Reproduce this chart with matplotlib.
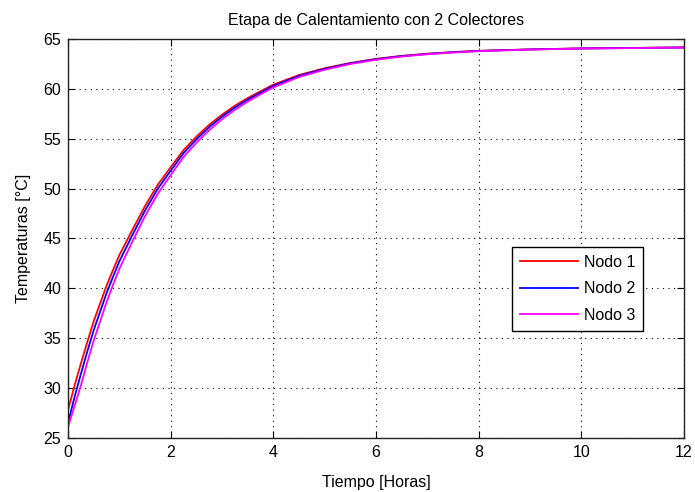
import matplotlib
matplotlib.use("Agg")
import matplotlib.pyplot as plt

plt.rcParams['font.family'] = ['Liberation Sans', 'DejaVu Sans']

# values (hours, deg C)
tiempo = [0, 0.125, 0.25, 0.375, 0.5, 0.625, 0.75, 0.875, 1.0, 1.25, 1.5, 1.75,
          2.0, 2.25, 2.5, 2.75, 3.0, 3.25, 3.5, 3.75, 4.0, 4.5, 5.0, 5.5,
          6.0, 6.5, 7.0, 7.5, 8.0, 9.0, 10.0, 11.0, 12.0]
nodo1 = [27.8, 30.21, 32.45, 34.61, 36.7, 38.48, 40.25, 41.82, 43.33, 45.82, 48.25, 50.4,
         52.15, 53.85, 55.21, 56.4, 57.41, 58.31, 59.08, 59.76, 60.42, 61.39, 62.07, 62.6,
         63.01, 63.31, 63.53, 63.69, 63.82, 63.96, 64.06, 64.11, 64.16]
nodo2 = [26.5, 29.06, 31.4, 33.66, 35.8, 37.66, 39.5, 41.14, 42.71, 45.3, 47.8, 50.0,
         51.8, 53.55, 54.94, 56.16, 57.21, 58.13, 58.92, 59.62, 60.3, 61.3, 62.0, 62.55,
         62.97, 63.28, 63.5, 63.67, 63.8, 63.95, 64.05, 64.1, 64.15]
nodo3 = [26.1, 28.16, 30.25, 32.56, 34.75, 36.68, 38.6, 40.32, 41.96, 44.65, 47.24, 49.5,
         51.35, 53.17, 54.6, 55.86, 56.95, 57.9, 58.72, 59.45, 60.15, 61.19, 61.92, 62.49,
         62.92, 63.24, 63.47, 63.64, 63.78, 63.94, 64.04, 64.09, 64.14]

xticks = [0, 2, 4, 6, 8, 10, 12]
yticks = [25, 30, 35, 40, 45, 50, 55, 60, 65]

fig = plt.figure(figsize=(6.95, 4.92), dpi=100)
ax = fig.add_axes([68/695, 1-438/492, (684-68)/695, (438-39)/492])

ax.plot(tiempo, nodo1, color='red', lw=1.3, label='Nodo 1')
ax.plot(tiempo, nodo2, color='blue', lw=1.3, label='Nodo 2')
ax.plot(tiempo, nodo3, color='magenta', lw=1.3, label='Nodo 3')

ax.set_xlim(0, 12)
ax.set_ylim(25, 65)
ax.set_xticks(xticks)
ax.set_yticks(yticks)
ax.tick_params(direction='in', top=True, right=True, length=5, labelsize=11.5, pad=5)
ax.grid(True, linestyle=(0, (1, 4)), color='black', lw=0.8)
for s in ax.spines.values():
    s.set_color('#222222')
    s.set_linewidth(1.0)

ax.set_title("Etapa de Calentamiento con 2 Colectores", fontsize=11.5, pad=10)
ax.set_xlabel("Tiempo [Horas]", fontsize=11.5, labelpad=11)
ax.set_ylabel("Temperaturas [°C]", fontsize=11.5, labelpad=9)

leg = ax.legend(loc='upper left', bbox_to_anchor=(0.721, 0.479), fontsize=11.5,
                fancybox=False, framealpha=1, edgecolor='black', handlelength=3.6,
                borderpad=0.5, labelspacing=0.72, handletextpad=0.4, borderaxespad=0)
leg.get_frame().set_linewidth(1.0)

fig.savefig("out.png", dpi=100)
